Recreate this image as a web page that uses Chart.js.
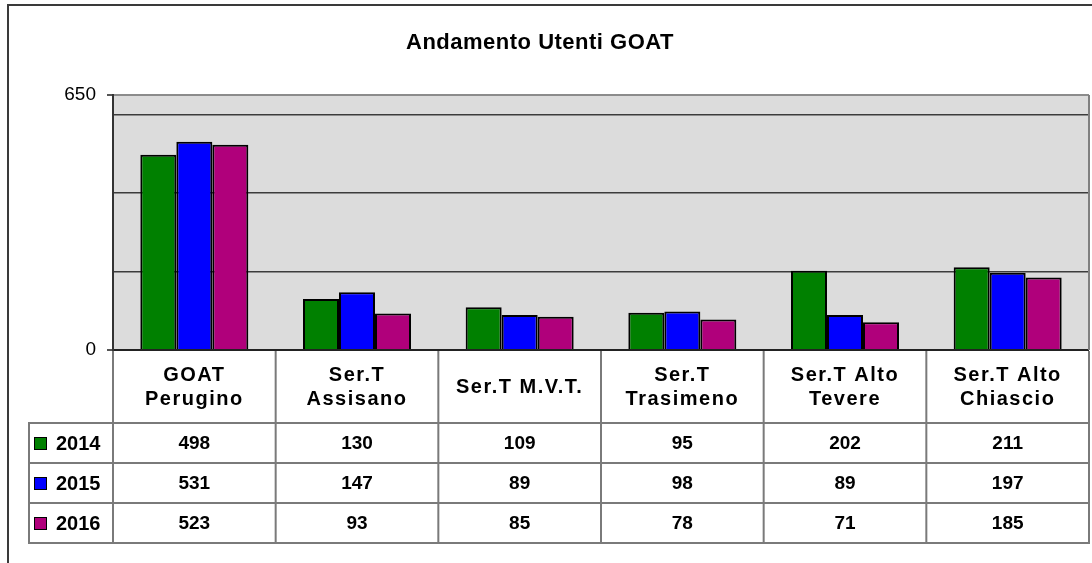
<!DOCTYPE html>
<html>
<head>
<meta charset="utf-8">
<title>Andamento Utenti GOAT</title>
<script src="https://cdn.jsdelivr.net/npm/chart.js@4.4.1/dist/chart.umd.min.js"></script>
<style>
  html, body { margin: 0; background: #fff; }
  #wrap { position: relative; width: 1092px; height: 563px; overflow: hidden; }
  #frame {
    position: absolute; left: 7px; top: 4px; width: 1200px; height: 700px;
    border-left: 2px solid #3a3a3a; border-top: 2px solid #3a3a3a;
  }
  canvas { position: absolute; left: 0; top: 0; }
</style>
</head>
<body>
<div id="wrap">
  <div id="frame"></div>
  <canvas id="chart" width="1092" height="563"></canvas>
</div>
<script>
/* -------------------------------------------------------
   DATA
------------------------------------------------------- */
const regions = [
  ["GOAT", "Perugino"],
  ["Ser.T", "Assisano"],
  ["Ser.T M.V.T."],
  ["Ser.T", "Trasimeno"],
  ["Ser.T Alto", "Tevere"],
  ["Ser.T Alto", "Chiascio"],
];
const years = ["2014", "2015", "2016"];
const users2014 = [498, 130, 109, 95, 202, 211];
const users2015 = [531, 147, 89, 98, 89, 197];
const users2016 = [523, 93, 85, 78, 71, 185];
const yearColors = ["#008000", "#0000ff", "#b0007b"];
const gridValues = [0, 200, 400, 600, 650];
const yMax = 650;

const series = [users2014, users2015, users2016];
const FONT = "'Liberation Sans', Arial, sans-serif";

/* -------------------------------------------------------
   PLOT BACKGROUND + RIGHT EDGE
------------------------------------------------------- */
const plotFrame = {
  id: "plotFrame",
  beforeDraw(chart) {
    const { ctx, chartArea: a } = chart;
    ctx.save();
    ctx.fillStyle = "#dcdcdc";
    ctx.fillRect(a.left, a.top, a.right - a.left, a.bottom - a.top);
    ctx.restore();
  },
  afterDatasetsDraw(chart) {
    const { ctx, chartArea: a } = chart;
    ctx.save();
    ctx.strokeStyle = "#808080";
    ctx.lineWidth = 2;
    ctx.beginPath();
    ctx.moveTo(a.right, a.top);
    ctx.lineTo(a.right, a.bottom);
    ctx.stroke();
    ctx.restore();
  },
};

/* -------------------------------------------------------
   TITLE + DATA TABLE under the category axis
------------------------------------------------------- */
const dataTable = {
  id: "dataTable",
  afterDraw(chart) {
    const { ctx, chartArea: a } = chart;
    const x = chart.scales.x;
    const half = (x.getPixelForValue(1) - x.getPixelForValue(0)) / 2;
    const tableTop = 423, rowH = 40, tableLeft = 29;
    const tableBottom = tableTop + rowH * years.length;

    ctx.save();

    // title
    ctx.fillStyle = "#000";
    ctx.font = "bold 22px " + FONT;
    ctx.letterSpacing = "0.5px";
    ctx.textAlign = "center";
    ctx.textBaseline = "middle";
    ctx.fillText("Andamento Utenti GOAT", 540, 43);

    // grid lines
    ctx.strokeStyle = "#7a7a7a";
    ctx.lineWidth = 2;
    ctx.beginPath();
    for (let i = 0; i <= regions.length; i++) {
      const bx = i === regions.length ? a.right : x.getPixelForValue(i) - half;
      ctx.moveTo(bx, a.bottom + 1);
      ctx.lineTo(bx, tableBottom);
    }
    ctx.moveTo(tableLeft, tableTop);
    ctx.lineTo(tableLeft, tableBottom);
    for (let r = 0; r <= years.length; r++) {
      const y = tableTop + r * rowH;
      ctx.moveTo(tableLeft - 1, y);
      ctx.lineTo(a.right + 1, y);
    }
    ctx.stroke();

    // category labels
    ctx.font = "bold 20px " + FONT;
    ctx.letterSpacing = "1.5px";
    regions.forEach((lines, i) => {
      const cx = x.getPixelForValue(i);
      const mid = (a.bottom + tableTop) / 2 + 1;
      lines.forEach((t, k) => {
        const y = mid + (k - (lines.length - 1) / 2) * 24;
        ctx.fillText(t, cx, y);
      });
    });
    ctx.letterSpacing = "0px";

    // legend keys + values
    years.forEach((yr, r) => {
      const cy = tableTop + r * rowH + rowH / 2;
      ctx.fillStyle = yearColors[r];
      ctx.fillRect(34, cy - 6, 13, 13);
      ctx.strokeStyle = "#000";
      ctx.lineWidth = 1;
      ctx.strokeRect(34.5, cy - 5.5, 12, 12);

      ctx.fillStyle = "#000";
      ctx.textAlign = "left";
      ctx.font = "bold 20px " + FONT;
      ctx.fillText(yr, 56, cy + 1);

      ctx.textAlign = "center";
      ctx.font = "bold 19px " + FONT;
      series[r].forEach((v, i) => {
        ctx.fillText(String(v), x.getPixelForValue(i), cy + 1);
      });
    });

    ctx.restore();
  },
};

/* -------------------------------------------------------
   BAR CHART
------------------------------------------------------- */
new Chart(document.getElementById("chart"), {
  type: "bar",
  data: {
    labels: regions.map((r) => r.join(" ")),
    datasets: years.map((yr, i) => ({
      label: yr,
      data: series[i],
      backgroundColor: yearColors[i],
      borderColor: "#000",
      borderWidth: 2,
      categoryPercentage: 0.664,
      barPercentage: 1,
    })),
  },
  options: {
    responsive: false,
    animation: false,
    events: [],
    layout: { padding: { left: 0, right: 3, top: 95, bottom: 213 } },
    plugins: { legend: { display: false }, title: { display: false }, tooltip: { enabled: false } },
    scales: {
      x: { display: false },
      y: {
        min: 0,
        max: yMax,
        afterFit: (axis) => { axis.width = 113; },
        afterBuildTicks: (axis) => { axis.ticks = gridValues.map((v) => ({ value: v })); },
        border: { display: true, color: "#333", width: 2 },
        grid: {
          drawTicks: true,
          tickLength: 6,
          color: (c) => {
            const v = c.tick.value;
            if (v === 0) return "#222";
            if (v === yMax) return "#8c8c8c";
            return "#3c3c3c";
          },
          lineWidth: (c) => (c.tick.value === 0 || c.tick.value === yMax ? 2 : 1.5),
          tickColor: (c) => (c.tick.value === 0 || c.tick.value === yMax ? "#555" : "rgba(0,0,0,0)"),
        },
        ticks: {
          padding: 11,
          color: "#000",
          font: { family: FONT, size: 19 },
          callback: (v) => (v === 0 || v === yMax ? String(v) : ""),
        },
      },
    },
  },
  plugins: [plotFrame, dataTable],
});
</script>
</body>
</html>
